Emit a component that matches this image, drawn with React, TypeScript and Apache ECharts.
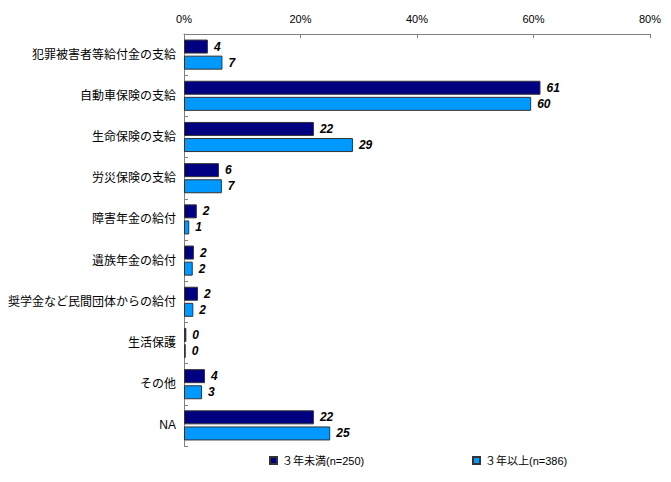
import React, { useEffect, useRef } from "react";
import * as echarts from "echarts";

const categories = [
  "犯罪被害者等給付金の支給",
  "自動車保険の支給",
  "生命保険の支給",
  "労災保険の支給",
  "障害年金の給付",
  "遺族年金の給付",
  "奨学金など民間団体からの給付",
  "生活保護",
  "その他",
  "NA",
];
const under3 = [4.1, 61.2, 22.3, 6.0, 2.2, 1.7, 2.4, 0.4, 3.6, 22.3];
const over3 = [6.6, 59.6, 29.0, 6.5, 0.9, 1.5, 1.6, 0.3, 3.1, 25.1];
const under3Name = "３年未満(n=250)";
const over3Name = "３年以上(n=386)";
const xTicks = [0, 20, 40, 60, 80];

export default function App() {
  const ref = useRef<HTMLDivElement>(null);
  useEffect(() => {
    if (!ref.current) return;
    const chart = echarts.init(ref.current, null, { renderer: "svg" });
    const font = "'Liberation Sans', Arial, 'Noto Sans CJK JP', sans-serif";
    const label = {
      show: true,
      position: "right" as const,
      distance: 6,
      formatter: (p: any) => String(Math.round(p.value)),
      fontFamily: font,
      fontSize: 12,
      fontWeight: "bold" as const,
      fontStyle: "italic" as const,
      color: "#000",
    };
    const legendCommon = {
      top: 450,
      icon: "rect",
      itemWidth: 7,
      itemHeight: 7,
      itemGap: 6,
      textStyle: { fontSize: 11, color: "#000", fontFamily: font },
    };
    chart.setOption({
      animation: false,
      textStyle: { fontFamily: font },
      grid: { left: 184, right: 21, top: 34, bottom: 36, containLabel: false },
      legend: [
        { ...legendCommon, data: [under3Name], left: 264 },
        { ...legendCommon, data: [over3Name], left: 467 },
      ],
      xAxis: {
        type: "value",
        position: "top",
        min: 0,
        max: 80,
        interval: 20,
        axisLine: { show: true, lineStyle: { color: "#808080", width: 1 } },
        axisTick: { show: true, inside: true, length: 4, lineStyle: { color: "#808080" } },
        splitLine: { show: false },
        axisLabel: {
          formatter: (v: number) => (xTicks.includes(v) ? v + "%" : ""),
          fontSize: 11,
          color: "#000",
          margin: 10,
          fontFamily: font,
        },
      },
      yAxis: {
        type: "category",
        data: categories,
        inverse: true,
        axisLine: { show: true, lineStyle: { color: "#808080", width: 1 } },
        axisTick: { show: true, inside: true, length: 4, lineStyle: { color: "#808080" } },
        axisLabel: { fontSize: 12, color: "#000", margin: 8, fontFamily: font },
      },
      series: [
        {
          name: under3Name,
          type: "bar",
          data: under3,
          barWidth: 14,
          barGap: "15%",
          itemStyle: { color: "#000080", borderColor: "#333", borderWidth: 1 },
          label,
        },
        {
          name: over3Name,
          type: "bar",
          data: over3,
          barWidth: 14,
          barGap: "15%",
          itemStyle: { color: "#0099FF", borderColor: "#333", borderWidth: 1 },
          label,
        },
      ],
    });
    return () => chart.dispose();
  }, []);
  return <div ref={ref} style={{ width: 671, height: 482, margin: -8 }} />;
}
